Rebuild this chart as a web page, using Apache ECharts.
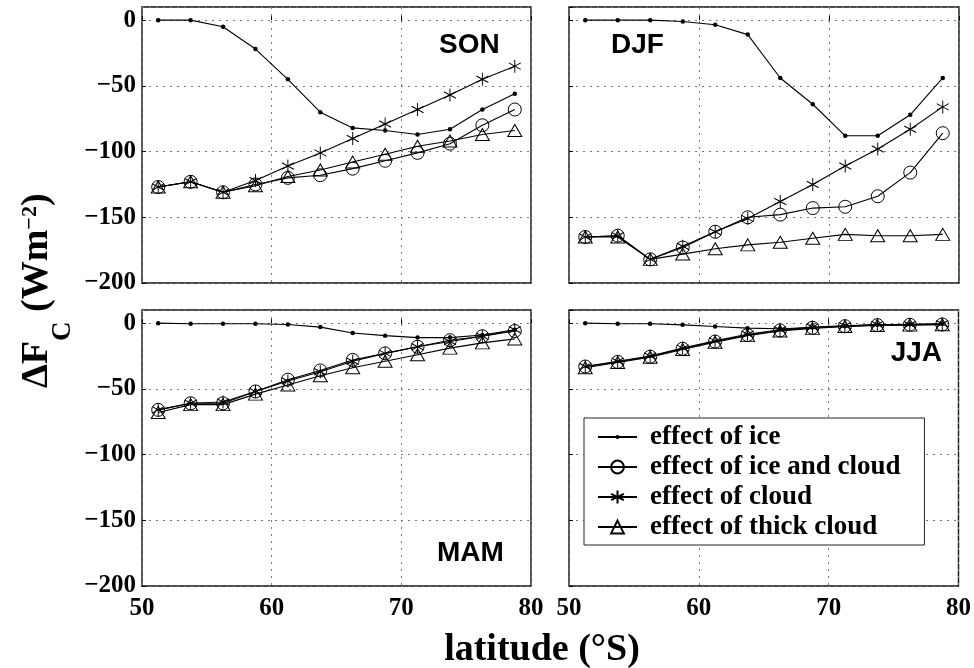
<!DOCTYPE html>
<html><head><meta charset="utf-8">
<script src="https://cdn.jsdelivr.net/npm/echarts@6/dist/echarts.min.js"></script>
<style>html,body{margin:0;padding:0;background:#fff}#c{width:974px;height:668px}</style>
</head><body><div id="c"></div>
<script>
// ---------- data ----------
const latitudes = [51.25, 53.75, 56.25, 58.75, 61.25, 63.75, 66.25, 68.75, 71.25, 73.75, 76.25, 78.75];
const seasons = ['SON', 'DJF', 'MAM', 'JJA'];
const seriesNames = ['effect of ice', 'effect of ice and cloud', 'effect of cloud', 'effect of thick cloud'];

const sonIce      = [0, 0, -5, -22, -45, -70, -82, -84, -87, -83, -68, -56];
const sonIceCloud = [-127, -123, -131, -125, -120, -118, -113, -107, -101, -94, -80, -68];
const sonCloud    = [-127, -123, -131, -122, -111, -101, -90, -79, -68, -57, -45, -35];
const sonThick    = [-127, -123, -131, -126, -119, -114, -108, -102, -96, -92, -87, -84];

const djfIce      = [0, 0, 0, -1, -3.5, -11, -44, -64, -88, -88, -72, -44];
const djfIceCloud = [-165, -164, -182, -173, -161, -150, -148, -143, -142, -134, -116, -86];
const djfCloud    = [-165, -164, -182, -172, -161, -151, -138, -125, -111, -98, -83, -66];
const djfThick    = [-165, -165, -182, -178, -174, -171, -169, -166, -163, -164, -164, -163];

const mamIce      = [0, -0.5, -0.5, -0.5, -1, -3, -7.5, -9.5, -11, -11, -9, -5];
const mamIceCloud = [-66, -61, -61, -52, -43, -36, -28, -23, -18, -13, -10, -6];
const mamCloud    = [-66, -61, -60, -52, -44, -37, -29, -23, -18, -14, -10, -5];
const mamThick    = [-68, -62, -62, -54, -47, -40, -34, -29, -24, -19, -15, -12];

const jjaIce      = [0, -0.5, -0.5, -1.3, -2.5, -3.8, -4.3, -3.3, -2.3, -1.3, -0.8, -0.5];
const jjaIceCloud = [-33, -29.5, -25.5, -19.5, -14, -9, -5.5, -3.5, -2.3, -1.5, -1.2, -1];
const jjaCloud    = [-33, -29, -25, -19, -13.5, -8.5, -5, -3, -2, -1, -1, -0.5];
const jjaThick    = [-34, -30, -26, -20, -14.5, -9.5, -6, -4, -2.5, -1.8, -1.5, -1.2];

const xTicks = [50, 60, 70, 80];
const yTicks = [-200, -150, -100, -50, 0];

const panelData = [
  [sonIce, sonIceCloud, sonCloud, sonThick],
  [djfIce, djfIceCloud, djfCloud, djfThick],
  [mamIce, mamIceCloud, mamCloud, mamThick],
  [jjaIce, jjaIceCloud, jjaCloud, jjaThick]
];

// ---------- style ----------
const SERIF = '"Liberation Serif", "Times New Roman", serif';
const SANS = '"Liberation Sans", Arial, sans-serif';
const gridBoxes = [
  {left: 142, top: 7, width: 389, height: 276},
  {left: 569, top: 7, width: 390, height: 276},
  {left: 142, top: 310, width: 389, height: 276},
  {left: 569, top: 310, width: 390, height: 276}
];
const clear = 'rgba(0,0,0,0)';
const symbolDefs = [
  {symbol: 'path://M-1,-1M1,1M0.32,0A0.32,0.32,0,1,1,-0.32,0A0.32,0.32,0,1,1,0.32,0Z', symbolSize: 14,
   itemStyle: {color: '#000', borderWidth: 0}},
  {symbol: 'circle', symbolSize: 13, itemStyle: {color: clear, borderColor: '#000', borderWidth: 1}},
  {symbol: 'path://M0,-1L0,1M-0.87,-0.5L0.87,0.5M-0.87,0.5L0.87,-0.5', symbolSize: [12, 13],
   itemStyle: {color: clear, borderColor: '#000', borderWidth: 1}},
  {symbol: 'triangle', symbolSize: [14, 12], itemStyle: {color: clear, borderColor: '#000', borderWidth: 1}}
];

function fmtY(v) {
  if (v > 0) return '';
  return v < 0 ? '\u2212' + Math.abs(v) : '0';
}

const grids = gridBoxes.map(g => Object.assign({show: true, borderColor: '#111', borderWidth: 1.4, backgroundColor: '#fff'}, g));
const splitStyle = {show: true, lineStyle: {color: '#777', width: 1, type: [2, 5]}};
const xAxes = gridBoxes.map((g, i) => ({
  type: 'value', gridIndex: i, min: xTicks[0], max: xTicks[xTicks.length - 1], interval: 10,
  axisLine: {show: false},
  axisTick: {show: true, inside: true, length: 4, lineStyle: {color: '#000'}},
  axisLabel: {show: i >= 2, margin: 10, color: '#000', fontFamily: SERIF, fontWeight: 'bold', fontSize: 25},
  splitLine: splitStyle
}));
const yAxes = gridBoxes.map((g, i) => ({
  type: 'value', gridIndex: i, min: -200, max: 10, interval: 50,
  axisLine: {show: false},
  axisTick: {show: true, inside: true, length: 4, lineStyle: {color: '#000'}},
  axisLabel: {show: i % 2 === 0, margin: 6, showMaxLabel: false, formatter: fmtY, color: '#000',
              fontFamily: SERIF, fontWeight: 'bold', fontSize: 25},
  splitLine: splitStyle
}));

const series = [];
panelData.forEach((arrs, p) => {
  arrs.forEach((vals, k) => {
    series.push(Object.assign({
      type: 'line', name: seriesNames[k], xAxisIndex: p, yAxisIndex: p,
      data: latitudes.map((lat, j) => [lat, vals[j]]),
      lineStyle: {color: '#000', width: 1.1},
      showSymbol: true, animation: false, silent: true,
      emphasis: {disabled: true}, z: 3
    }, symbolDefs[k]));
  });
});

// text measurement for the y-axis title
const mctx = document.createElement('canvas').getContext('2d');
function tw(str, size) { mctx.font = 'bold ' + size + 'px ' + SERIF; return mctx.measureText(str).width; }
function mid(base, size, sans) { return base - (sans ? 0.3465 : 0.3375) * size; }
function txt(str, x, y, size, family, align) {
  return {type: 'text', x: x, y: y, silent: true,
    style: {text: str, fill: '#000', font: 'bold ' + size + 'px ' + family,
      align: align || 'left', textAlign: align || 'left', verticalAlign: 'middle', textVerticalAlign: 'middle'}};
}
const yt = [];
let ux = 0;
yt.push(txt('\u0394F', ux, mid(0, 38), 38, SERIF)); ux += tw('\u0394F', 38);
yt.push(txt('C', ux, mid(22, 27), 27, SERIF)); ux += tw('C', 27);
yt.push(txt(' (Wm', ux, mid(0, 38), 38, SERIF)); ux += tw(' (Wm', 38);
yt.push(txt('\u22122', ux, mid(-12, 22), 22, SERIF)); ux += tw('\u22122', 22);
yt.push(txt(')', ux, mid(0, 38), 38, SERIF));

const graphics = [
  {type: 'group', x: 50, y: 388, rotation: Math.PI / 2, children: yt},
  txt('latitude (\u00b0S)', 542, mid(663, 38), 38, SERIF, 'center'),
  txt(seasons[0], 439, mid(55, 28, true), 28, SANS),
  txt(seasons[1], 611, mid(55, 28, true), 28, SANS),
  txt(seasons[2], 437, mid(563, 28, true), 28, SANS),
  txt(seasons[3], 942, mid(363, 28, true), 28, SANS, 'right')
];

const chart = echarts.init(document.getElementById('c'), null, {renderer: 'canvas'});
chart.setOption({
  backgroundColor: '#fff',
  animation: false,
  grid: grids,
  xAxis: xAxes,
  yAxis: yAxes,
  series: series,
  legend: {
    data: seriesNames, orient: 'vertical', left: 584, top: 418,
    padding: [4, 24, 3, 13], itemGap: 0, itemWidth: 39, itemHeight: 16,
    backgroundColor: '#fff', borderColor: '#222', borderWidth: 1,
    selectedMode: false,
    textStyle: {fontFamily: SERIF, fontWeight: 'bold', fontSize: 27, color: '#000', lineHeight: 30, padding: [0, 0, 0, 8]}
  },
  graphic: graphics
});
</script></body></html>
